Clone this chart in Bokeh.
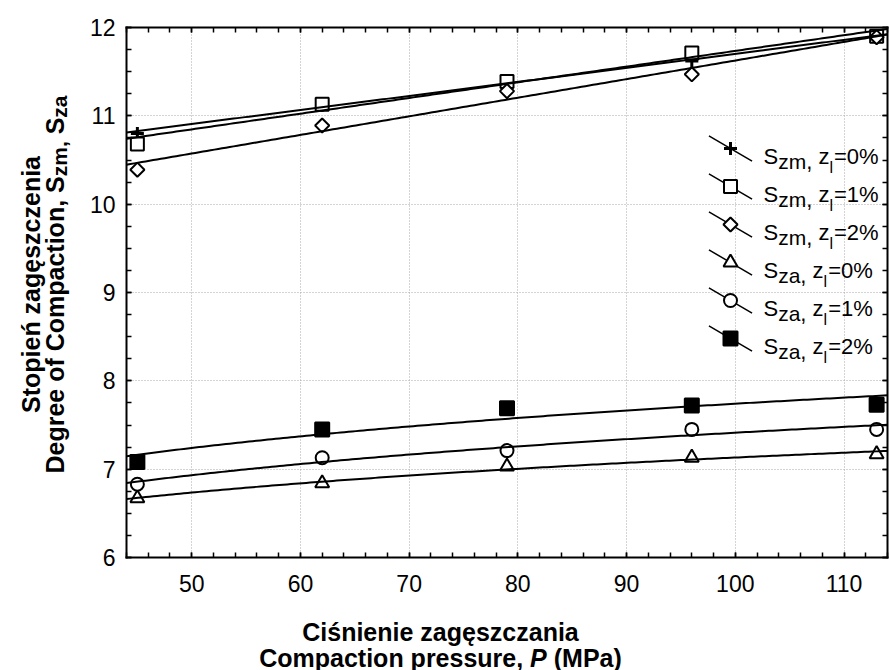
import numpy as np
from bokeh.plotting import figure
from bokeh.models import (Range1d, LinearAxis, Label, FixedTicker, ColumnDataSource, Grid,
                          CustomLabelingPolicy)
from bokeh.core.properties import value
from bokeh.embed import file_html
from bokeh.resources import INLINE

# ---------------- data ----------------
P = [45, 62, 79, 96, 113]
Szm_0 = [10.80, 11.12, 11.40, 11.62, 11.90]
Szm_1 = [10.68, 11.13, 11.39, 11.71, 11.90]
Szm_2 = [10.39, 10.89, 11.28, 11.47, 11.89]
Sza_0 = [6.67, 6.84, 7.03, 7.13, 7.17]
Sza_1 = [6.83, 7.13, 7.21, 7.45, 7.45]
Sza_2 = [7.08, 7.45, 7.69, 7.72, 7.73]

series_sub = ["zm", "zm", "zm", "za", "za", "za"]
series_pct = ["0%", "1%", "2%", "0%", "1%", "2%"]
series_vals = [Szm_0, Szm_1, Szm_2, Sza_0, Sza_1, Sza_2]
series_fit = ["lin", "lin", "lin", "log", "log", "log"]

x_ticks = [50, 60, 70, 80, 90, 100, 110]
y_ticks = [6, 7, 8, 9, 10, 11, 12]

XMIN, XMAX = 44, 114
YMIN, YMAX = 6, 12

# ---------------- layout (page pixels) ----------------
W, H = 889, 670
PL, PR, PT, PB = 126, 887, 27, 557      # plot box
XS = (XMAX - XMIN) / (PR - PL)
YS = (YMAX - YMIN) / (PB - PT)


def dx(px):
    return XMIN + (px - PL) * XS


def dy(py):
    return YMAX - (py - PT) * YS


FONT = "Liberation Sans"

W_REG = {'S': .667, 'z': .5, 'm': .833, 'a': .556, ',': .278, ' ': .278, 'l': .222,
         '=': .584, '0': .556, '1': .556, '2': .556, '%': .889}
W_BOLD = {'D': .722, 'e': .556, 'g': .611, 'r': .389, ' ': .278, 'o': .611, 'f': .333,
          'C': .722, 'm': .889, 'p': .611, 'a': .556, 'c': .556, 't': .333, 'i': .278,
          'n': .611, ',': .278, 'S': .667, 'z': .5, 's': .556, 'u': .611, 'P': .667,
          '(': .333, ')': .333, 'M': .833, 'ń': .611, 'ę': .556, 'ś': .556}


def tw(s, size, bold=False):
    t = W_BOLD if bold else W_REG
    return sum(t.get(c, 0.556) for c in s) * size


p = figure(width=W, height=H,
           x_range=Range1d(dx(0), dx(W)), y_range=Range1d(dy(H), dy(0)),
           x_axis_type=None, y_axis_type=None,
           output_backend="svg", toolbar_location=None, min_border=0,
           background_fill_color="white", border_fill_color="white")
p.outline_line_color = None

xt = FixedTicker(ticks=x_ticks, minor_ticks=[float(v) for v in np.arange(XMIN, XMAX + 0.01, 2)])
yt = FixedTicker(ticks=y_ticks, minor_ticks=[float(v) for v in np.arange(YMIN, YMAX + 0.01, 0.25)])

# ---------------- grid ----------------
GRID = dict(grid_line_color="#a8a8a8", grid_line_dash="1 2", grid_line_width=1)
xg = Grid(dimension=0, ticker=xt, bounds=(XMIN, XMAX), **GRID)
yg = Grid(dimension=1, ticker=yt, bounds=(YMIN, YMAX), **GRID)
try:
    xg.cross_bounds = (YMIN, YMAX)
    yg.cross_bounds = (XMIN, XMAX)
    p.add_layout(xg)
    p.add_layout(yg)
except AttributeError:
    p.segment(x0=x_ticks, y0=[YMIN] * len(x_ticks), x1=x_ticks, y1=[YMAX] * len(x_ticks),
              line_color="#a8a8a8", line_dash="1 2", line_width=1, level="underlay")
    p.segment(x0=[XMIN] * len(y_ticks), y0=y_ticks, x1=[XMAX] * len(y_ticks), y1=y_ticks,
              line_color="#a8a8a8", line_dash="1 2", line_width=1, level="underlay")


# ---------------- axes (box with inward ticks) ----------------
def make_axis(ticker, loc, bounds, labels, standoff=0):
    ax = LinearAxis(ticker=ticker, fixed_location=loc, bounds=bounds)
    ax.axis_line_color = "black"
    ax.axis_line_width = 2
    ax.axis_line_cap = "square"
    ax.major_tick_in = 5
    ax.major_tick_out = 0
    ax.minor_tick_in = 5
    ax.minor_tick_out = 0
    ax.major_tick_line_color = "black"
    ax.minor_tick_line_color = "black"
    ax.major_tick_line_width = 1.5
    ax.minor_tick_line_width = 1.5
    if labels:
        ax.major_label_text_font = FONT
        ax.major_label_text_font_size = "23px"
        ax.major_label_text_color = "black"
        ax.major_label_standoff = standoff
    else:
        ax.major_label_policy = CustomLabelingPolicy(code="return new Set()")
    return ax


p.add_layout(make_axis(xt, YMIN, (XMIN, XMAX), True, 17), "below")
p.add_layout(make_axis(yt, XMIN, (YMIN, YMAX), True, 11), "left")
p.add_layout(make_axis(xt, YMAX, (XMIN, XMAX), False), "above")
p.add_layout(make_axis(yt, XMAX, (YMIN, YMAX), False), "right")

# ---------------- markers and fitted curves ----------------
styles = [
    dict(marker="cross", size=13, line_width=3, fill_color=None, angle=0.0),
    dict(marker="square", size=13, line_width=2, fill_color="white", angle=0.0),
    dict(marker="square", size=10, line_width=2, fill_color="white", angle=np.pi / 4),
    dict(marker="triangle", size=14, line_width=2, fill_color="white", angle=0.0),
    dict(marker="circle", size=13, line_width=2, fill_color="white", angle=0.0),
    dict(marker="square", size=14, line_width=2, fill_color="black", angle=0.0),
]

for vals, st in zip(series_vals, styles):
    p.scatter(P, vals, line_color="black", **st)

xx = np.linspace(XMIN, XMAX, 200)
for vals, kind in zip(series_vals, series_fit):
    if kind == "lin":
        c = np.polyfit(P, vals, 1)
        yy = np.polyval(c, xx)
    else:
        c = np.polyfit(np.log(P), vals, 1)
        yy = np.polyval(c, np.log(xx))
    p.line(xx, yy, line_color="black", line_width=2)

# ---------------- legend ----------------
LEG_MX = 730     # marker centre x (page px)
LEG_Y0 = 148     # first row y
LEG_DY = 38
MAIN, SUB, SUB2 = 22, 21, 16

tx, ty, tt, tsz = [], [], [], []
for i, (sub, pct, st) in enumerate(zip(series_sub, series_pct, styles)):
    ry = LEG_Y0 + i * LEG_DY
    p.scatter([dx(LEG_MX)], [dy(ry)], marker="dash", size=50, angle=-0.53,
              line_color="black", line_width=1.5)
    p.scatter([dx(LEG_MX)], [dy(ry)], line_color="black", **st)
    pieces = [("S", MAIN, 8, 0), (sub, SUB, 13, 0), (",", MAIN, 13, tw(" ", MAIN)),
              ("z", MAIN, 8, 0), ("l", SUB2, 19, 1), ("=" + pct, MAIN, 8, 0)]
    x = LEG_MX + 33.0
    for txt, sz, base, gap in pieces:
        tx.append(dx(x))
        ty.append(dy(ry + base))
        tt.append(txt)
        tsz.append(f"{sz}px")
        x += tw(txt, sz) + gap

src = ColumnDataSource(dict(x=tx, y=ty, text=tt, fs=tsz))
p.text(x="x", y="y", text="text", text_font_size="fs", source=src,
       text_font=value(FONT), text_color="black", text_align="left",
       text_baseline="alphabetic")

# ---------------- axis titles ----------------
TSZ = 25
TSUB = 21
XT_C = 440
p.add_layout(Label(x=dx(XT_C), y=dy(631), text="Ciśnienie zagęszczania", text_font=FONT,
                   text_font_size=f"{TSZ}px", text_font_style="bold", text_align="center",
                   text_baseline="alphabetic", text_color="black"))
# (text, style, extra gap after)
parts2 = [("Compaction pressure,", "bold", tw(" ", TSZ, True)),
          ("P", "bold italic", tw(" ", TSZ, True)),
          ("(MPa)", "bold", 0)]
tot = sum(tw(s, TSZ, True) + g for s, _, g in parts2)
x0 = XT_C - tot / 2
for s, style, g in parts2:
    p.add_layout(Label(x=dx(x0), y=dy(657), text=s, text_font=FONT,
                       text_font_size=f"{TSZ}px", text_font_style=style, text_align="left",
                       text_baseline="alphabetic", text_color="black"))
    x0 += tw(s, TSZ, True) + g

YT_C = 284
p.add_layout(Label(x=dx(30), y=dy(YT_C), text="Stopień zagęszczenia",
                   text_font=FONT, text_font_size=f"{TSZ}px", text_font_style="bold",
                   text_align="center", text_baseline="alphabetic", angle=np.pi / 2,
                   text_color="black"))
yparts = [("Degree of Compaction, S", TSZ, 0, 0), ("zm", TSUB, 5, tw(" ", TSZ, True)),
          (", S", TSZ, 0, 0), ("za", TSUB, 5, 0)]
yparts = [("Degree of Compaction, S", TSZ, 0, 0), ("zm,", TSUB, 5, tw(" ", TSZ, True)),
          ("S", TSZ, 0, 0), ("za", TSUB, 5, 0)]
tot = sum(tw(s, sz, True) + g for s, sz, _, g in yparts)
y0 = YT_C + tot / 2
for s, sz, sh, g in yparts:
    p.add_layout(Label(x=dx(54 + sh), y=dy(y0), text=s,
                       text_font=FONT, text_font_size=f"{sz}px", text_font_style="bold",
                       text_align="left", text_baseline="alphabetic", angle=np.pi / 2,
                       text_color="black"))
    y0 -= tw(s, sz, True) + g

open("out.html", "w").write(file_html(p, INLINE))
